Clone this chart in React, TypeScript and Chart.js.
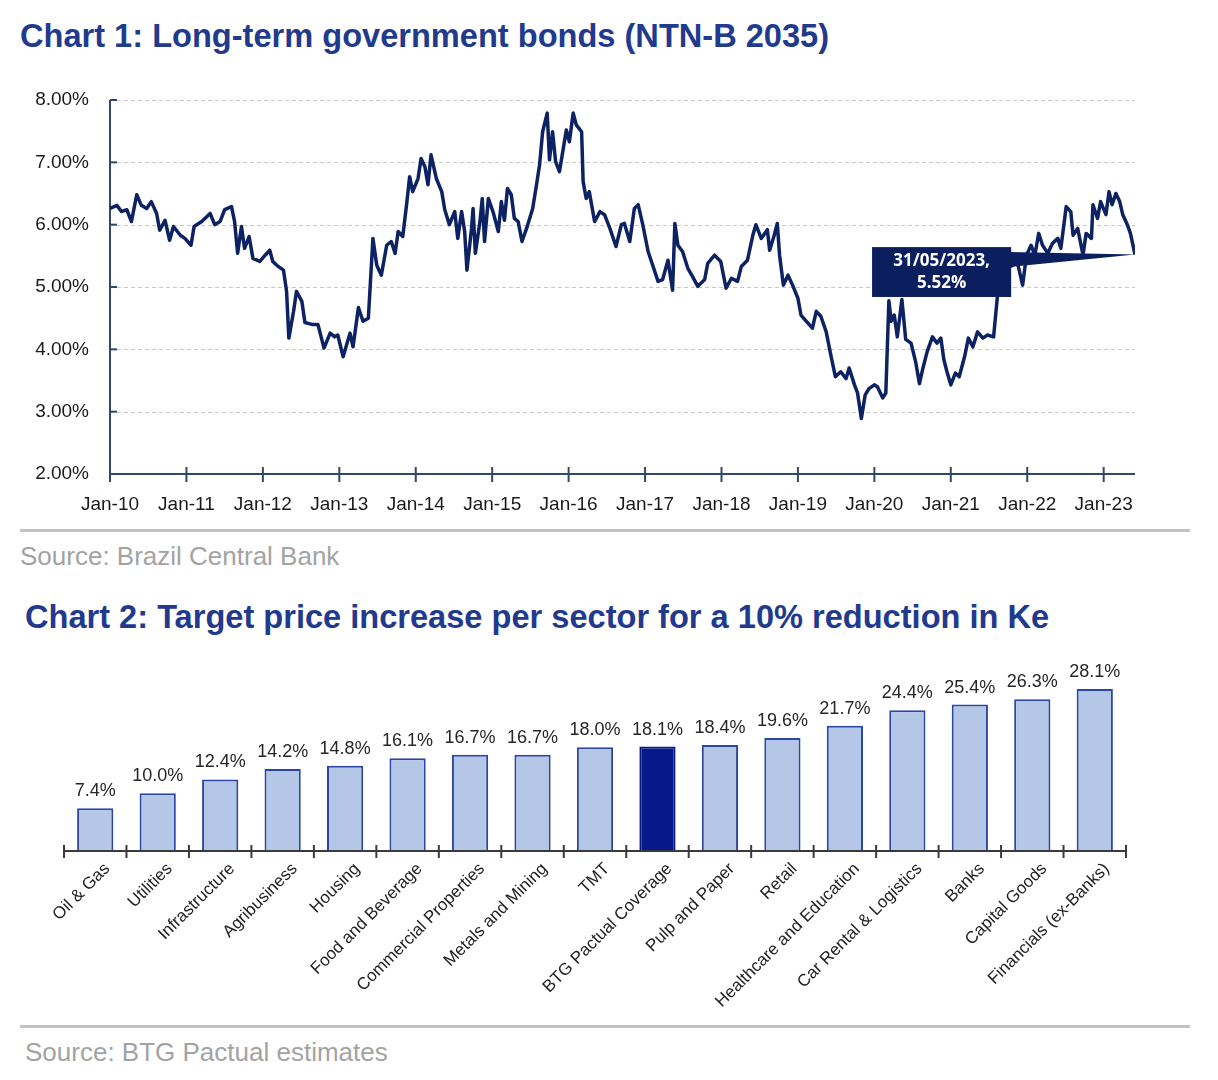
import { useEffect, useRef } from 'react';
import { Chart, registerables, type Plugin } from 'chart.js';

Chart.register(...registerables);

const FONT = "'Liberation Sans', Arial, Helvetica, sans-serif";
const TITLE_BLUE = '#223a8e';
const LINE_NAVY = '#0c2262';

// ---- Chart 1: NTN-B 2035 yield ----
const bondDates = [
  2010.0, 2010.09, 2010.15, 2010.22, 2010.28, 2010.35, 2010.41, 2010.48, 2010.54, 2010.61,
  2010.65, 2010.72, 2010.78, 2010.83, 2010.92, 2010.98, 2011.06, 2011.1, 2011.2, 2011.31,
  2011.37, 2011.44, 2011.5, 2011.59, 2011.63, 2011.67, 2011.72, 2011.76, 2011.82, 2011.87,
  2011.96, 2012.03, 2012.09, 2012.13, 2012.2, 2012.27, 2012.31, 2012.34, 2012.4, 2012.44,
  2012.51, 2012.55, 2012.64, 2012.72, 2012.8, 2012.88, 2012.94, 2012.98, 2013.05, 2013.14,
  2013.18, 2013.25, 2013.31, 2013.38, 2013.4, 2013.44,
  2013.49, 2013.55, 2013.62, 2013.68, 2013.73, 2013.77, 2013.83, 2013.88, 2013.92, 2013.96,
  2014.03, 2014.07, 2014.12, 2014.16, 2014.2, 2014.27, 2014.34, 2014.38, 2014.44, 2014.51,
  2014.55, 2014.6, 2014.64, 2014.67, 2014.73, 2014.75, 2014.78, 2014.84, 2014.87, 2014.9,
  2014.95, 2015.01, 2015.08, 2015.12, 2015.16, 2015.2, 2015.25, 2015.29, 2015.34, 2015.39,
  2015.45, 2015.49, 2015.53, 2015.58, 2015.62, 2015.66, 2015.72, 2015.75, 2015.79, 2015.83,
  2015.88, 2015.93, 2015.97, 2016.01, 2016.06, 2016.1, 2016.17, 2016.19, 2016.23, 2016.27,
  2016.34, 2016.41, 2016.47, 2016.54, 2016.62, 2016.69,
  2016.73, 2016.8, 2016.86, 2016.91, 2016.97, 2017.04, 2017.1, 2017.17, 2017.23, 2017.3,
  2017.36, 2017.39, 2017.43, 2017.49, 2017.56, 2017.62, 2017.69, 2017.78, 2017.82, 2017.91,
  2017.99, 2018.06, 2018.13, 2018.21, 2018.26, 2018.34, 2018.41, 2018.45, 2018.52, 2018.6,
  2018.63, 2018.69, 2018.73, 2018.76, 2018.81, 2018.87, 2018.93, 2019.0, 2019.04, 2019.11,
  2019.19, 2019.24, 2019.3, 2019.37, 2019.43, 2019.49, 2019.56, 2019.63, 2019.67, 2019.74,
  2019.78, 2019.83, 2019.88,
  2019.93, 2020.0, 2020.04, 2020.11, 2020.15, 2020.19, 2020.22, 2020.26, 2020.3, 2020.36,
  2020.41, 2020.48, 2020.54, 2020.59, 2020.63, 2020.69, 2020.76, 2020.82, 2020.87, 2020.91,
  2020.95, 2021.0, 2021.06, 2021.11, 2021.18, 2021.23, 2021.29, 2021.35, 2021.42, 2021.48,
  2021.56, 2021.61, 2021.68, 2021.74, 2021.81, 2021.87, 2021.94, 2021.99, 2022.05, 2022.1,
  2022.15, 2022.2, 2022.27, 2022.33, 2022.4, 2022.44, 2022.51, 2022.57, 2022.6, 2022.66,
  2022.73, 2022.77, 2022.84, 2022.86, 2022.92, 2022.96, 2023.03, 2023.07, 2023.11, 2023.16,
  2023.21, 2023.25, 2023.31, 2023.35, 2023.41,
];

const bondYields = [
  6.26, 6.31, 6.21, 6.24, 6.05, 6.48, 6.31, 6.26, 6.37, 6.18,
  5.91, 6.07, 5.75, 5.97, 5.83, 5.78, 5.67, 5.97, 6.05, 6.18,
  6.0, 6.05, 6.24, 6.29, 6.05, 5.54, 5.97, 5.62, 5.81, 5.46,
  5.41, 5.51, 5.59, 5.41, 5.33, 5.27, 4.93, 4.18, 4.6, 4.93,
  4.77, 4.43, 4.4, 4.4, 4.02, 4.26, 4.2, 4.23, 3.88, 4.26,
  4.04, 4.67, 4.45, 4.5, 4.93, 5.78,
  5.35, 5.19, 5.67, 5.73, 5.54, 5.89, 5.81, 6.32, 6.77, 6.53,
  6.74, 7.06, 6.93, 6.64, 7.12, 6.74, 6.53, 6.24, 6.0, 6.21,
  5.78, 6.21, 5.89, 5.27, 5.94, 6.26, 5.54, 6.05, 6.42, 5.73,
  6.42, 6.21, 5.89, 6.37, 6.07, 6.58, 6.48, 6.1, 6.05, 5.73,
  5.94, 6.1, 6.26, 6.64, 6.96, 7.49, 7.79, 7.04, 7.49, 7.01,
  6.85, 7.22, 7.52, 7.33, 7.79, 7.6, 7.49, 6.69, 6.42, 6.53,
  6.05, 6.21, 6.16, 5.94, 5.65, 6.0,
  6.02, 5.73, 6.26, 6.32, 6.0, 5.57, 5.35, 5.09, 5.12, 5.43,
  4.95, 6.02, 5.67, 5.57, 5.3, 5.17, 5.01, 5.12, 5.38, 5.51,
  5.41, 4.98, 5.14, 5.09, 5.33, 5.43, 5.83, 6.0, 5.78, 5.92,
  5.59, 5.83, 6.02, 5.51, 5.03, 5.19, 5.03, 4.82, 4.55, 4.45,
  4.34, 4.61, 4.53, 4.28, 3.91, 3.56, 3.64, 3.53, 3.7, 3.43,
  3.3, 2.89, 3.27,
  3.37, 3.43, 3.4, 3.22, 3.3, 4.78, 4.45, 4.55, 4.2, 4.8,
  4.16, 4.1, 3.8, 3.45, 3.67, 3.96, 4.2, 4.1, 4.18, 3.83,
  3.64, 3.43, 3.62, 3.56, 3.88, 4.18, 4.04, 4.28, 4.18, 4.23,
  4.2, 4.85, 5.03, 5.3, 5.35, 5.4, 5.03, 5.51, 5.67, 5.51,
  5.86, 5.67, 5.54, 5.7, 5.78, 5.62, 6.29, 6.21, 5.83, 5.94,
  5.51, 5.86, 5.78, 6.32, 6.1, 6.37, 6.16, 6.53, 6.32, 6.5,
  6.37, 6.16, 6.0, 5.86, 5.52,
];

const bondTickYears = [2010, 2011, 2012, 2013, 2014, 2015, 2016, 2017, 2018, 2019, 2020, 2021, 2022, 2023];
const bondTickLabels = ['Jan-10', 'Jan-11', 'Jan-12', 'Jan-13', 'Jan-14', 'Jan-15', 'Jan-16', 'Jan-17', 'Jan-18', 'Jan-19', 'Jan-20', 'Jan-21', 'Jan-22', 'Jan-23'];
const yieldTicks = [2, 3, 4, 5, 6, 7, 8];
const lastPointLabel = ['31/05/2023,', '5.52%'];
// callout box, in data units (years / %)
const calloutBox = { x0: 2019.97, x1: 2021.79, yTop: 5.64, yBottom: 4.84 };

// ---- Chart 2: target price increase per sector ----
const sectors = [
  'Oil & Gas', 'Utilities', 'Infrastructure', 'Agribusiness', 'Housing', 'Food and Beverage',
  'Commercial Properties', 'Metals and Mining', 'TMT', 'BTG Pactual Coverage', 'Pulp and Paper',
  'Retail', 'Healthcare and Education', 'Car Rental & Logistics', 'Banks', 'Capital Goods',
  'Financials (ex-Banks)',
];
const priceIncrease = [7.4, 10.0, 12.4, 14.2, 14.8, 16.1, 16.7, 16.7, 18.0, 18.1, 18.4, 19.6, 21.7, 24.4, 25.4, 26.3, 28.1];
const highlightSector = 'BTG Pactual Coverage';

const bondFrame: Plugin<'line'> = {
  id: 'bondFrame',
  beforeDatasetsDraw(chart) {
    const { ctx, chartArea, scales } = chart;
    const { left, right, top, bottom } = chartArea;
    const x = scales.x;
    const y = scales.y;
    ctx.save();
    ctx.strokeStyle = '#c8c8c8';
    ctx.lineWidth = 1;
    ctx.setLineDash([4, 3]);
    y.ticks.forEach((t) => {
      if (t.value === y.min) return;
      const py = Math.round(y.getPixelForValue(t.value)) + 0.5;
      ctx.beginPath();
      ctx.moveTo(left, py);
      ctx.lineTo(right, py);
      ctx.stroke();
    });
    ctx.setLineDash([]);
    ctx.strokeStyle = '#34466b';
    ctx.lineWidth = 2;
    ctx.beginPath();
    ctx.moveTo(left, top);
    ctx.lineTo(left, bottom);
    ctx.lineTo(right, bottom);
    ctx.stroke();
    y.ticks.forEach((t) => {
      const py = y.getPixelForValue(t.value);
      ctx.beginPath();
      ctx.moveTo(left, py);
      ctx.lineTo(left + 7, py);
      ctx.stroke();
    });
    x.ticks.forEach((t) => {
      const px = x.getPixelForValue(t.value);
      ctx.beginPath();
      ctx.moveTo(px, bottom - 7);
      ctx.lineTo(px, bottom + 8);
      ctx.stroke();
    });
    ctx.restore();
  },
  afterDatasetsDraw(chart) {
    const { ctx, scales } = chart;
    const x = scales.x;
    const y = scales.y;
    const n = bondDates.length - 1;
    const px = x.getPixelForValue(bondDates[n]);
    const py = y.getPixelForValue(bondYields[n]);
    const bx0 = x.getPixelForValue(calloutBox.x0);
    const bx1 = x.getPixelForValue(calloutBox.x1);
    const by0 = y.getPixelForValue(calloutBox.yTop);
    const by1 = y.getPixelForValue(calloutBox.yBottom);
    ctx.save();
    ctx.fillStyle = '#0b1f5e';
    ctx.beginPath();
    ctx.moveTo(bx1 - 2, by0 + 5);
    ctx.lineTo(px, py);
    ctx.lineTo(bx1 - 2, by0 + 20);
    ctx.closePath();
    ctx.fill();
    ctx.fillRect(bx0, by0, bx1 - bx0, by1 - by0);
    ctx.fillStyle = '#ffffff';
    ctx.font = "bold 17px 'Open Sans', 'Liberation Sans', sans-serif";
    ctx.textAlign = 'center';
    ctx.textBaseline = 'middle';
    const cx = (bx0 + bx1) / 2;
    const h = by1 - by0;
    ctx.fillText(lastPointLabel[0], cx, by0 + h * 0.28);
    ctx.fillText(lastPointLabel[1], cx, by0 + h * 0.72);
    ctx.restore();
  },
};

function BondChart() {
  const chartRef = useRef<HTMLCanvasElement>(null);
  const chartInstance = useRef<Chart | null>(null);

  useEffect(() => {
    if (!chartRef.current) return;
    if (chartInstance.current) chartInstance.current.destroy();
    const ctx = chartRef.current.getContext('2d');
    if (!ctx) return;

    chartInstance.current = new Chart(ctx, {
      type: 'line',
      data: {
        datasets: [
          {
            data: bondDates.map((d, i) => ({ x: d, y: bondYields[i] })),
            borderColor: LINE_NAVY,
            borderWidth: 3.5,
            pointRadius: 0,
            tension: 0,
            borderJoinStyle: 'round',
          },
        ],
      },
      options: {
        animation: false,
        responsive: true,
        maintainAspectRatio: false,
        layout: { padding: { top: 15, right: 25, left: 0, bottom: 0 } },
        plugins: { legend: { display: false }, tooltip: { enabled: false } },
        scales: {
          x: {
            type: 'linear',
            min: bondDates[0],
            max: bondDates[bondDates.length - 1],
            afterBuildTicks: (s) => {
              s.ticks = bondTickYears.map((v) => ({ value: v }));
            },
            afterFit: (s) => {
              s.height = 56;
            },
            grid: { display: false, drawTicks: false },
            border: { display: false },
            ticks: {
              autoSkip: false,
              maxRotation: 0,
              padding: 19,
              color: '#1a1a1a',
              font: { family: FONT, size: 19 },
              callback: (v) => bondTickLabels[bondTickYears.indexOf(Number(v))] ?? '',
            },
          },
          y: {
            min: 2,
            max: 8,
            afterBuildTicks: (s) => {
              s.ticks = yieldTicks.map((v) => ({ value: v }));
            },
            afterFit: (s) => {
              s.width = 110;
              s.paddingTop = 0;
              s.paddingBottom = 0;
            },
            grid: { display: false, drawTicks: false },
            border: { display: false },
            ticks: {
              padding: 21,
              color: '#1a1a1a',
              font: { family: FONT, size: 19 },
              callback: (v) => `${Number(v).toFixed(2)}%`,
            },
          },
        },
      },
      plugins: [bondFrame],
    });

    return () => {
      if (chartInstance.current) {
        chartInstance.current.destroy();
        chartInstance.current = null;
      }
    };
  }, []);

  return <canvas ref={chartRef} />;
}

const sectorFrame: Plugin<'bar'> = {
  id: 'sectorFrame',
  afterDatasetsDraw(chart) {
    const { ctx, chartArea } = chart;
    const { left, right, bottom } = chartArea;
    const meta = chart.getDatasetMeta(0);
    ctx.save();
    ctx.fillStyle = '#262626';
    ctx.font = `18px ${FONT}`;
    ctx.textAlign = 'center';
    ctx.textBaseline = 'alphabetic';
    meta.data.forEach((bar, i) => {
      ctx.fillText(`${priceIncrease[i].toFixed(1)}%`, bar.x, bar.y - 12);
    });
    ctx.strokeStyle = '#3a3a3a';
    ctx.lineWidth = 2;
    ctx.beginPath();
    ctx.moveTo(left, bottom);
    ctx.lineTo(right, bottom);
    ctx.stroke();
    const step = (right - left) / sectors.length;
    for (let k = 0; k <= sectors.length; k++) {
      const px = left + k * step;
      ctx.beginPath();
      ctx.moveTo(px, bottom - 6);
      ctx.lineTo(px, bottom + 7);
      ctx.stroke();
    }
    ctx.restore();
  },
};

function SectorChart() {
  const chartRef = useRef<HTMLCanvasElement>(null);
  const chartInstance = useRef<Chart | null>(null);

  useEffect(() => {
    if (!chartRef.current) return;
    if (chartInstance.current) chartInstance.current.destroy();
    const ctx = chartRef.current.getContext('2d');
    if (!ctx) return;

    chartInstance.current = new Chart(ctx, {
      type: 'bar',
      data: {
        labels: sectors,
        datasets: [
          {
            data: priceIncrease,
            backgroundColor: sectors.map((s) => (s === highlightSector ? '#07198a' : '#b4c7e7')),
            borderColor: sectors.map((s) => (s === highlightSector ? '#07198a' : '#2b46a6')),
            borderWidth: 2,
            barPercentage: 0.58,
            categoryPercentage: 1,
          },
        ],
      },
      options: {
        animation: false,
        responsive: true,
        maintainAspectRatio: false,
        layout: { padding: { top: 38, right: 92, left: 64, bottom: 0 } },
        plugins: { legend: { display: false }, tooltip: { enabled: false } },
        scales: {
          x: {
            afterFit: (s) => {
              s.height = 169;
            },
            grid: { display: false, drawTicks: false },
            border: { display: false },
            ticks: {
              autoSkip: false,
              minRotation: 45,
              maxRotation: 45,
              padding: 8,
              labelOffset: 12,
              color: '#222222',
              font: { family: FONT, size: 17 },
            },
          },
          y: { display: false, min: 0, max: 30 },
        },
      },
      plugins: [sectorFrame],
    });

    return () => {
      if (chartInstance.current) {
        chartInstance.current.destroy();
        chartInstance.current = null;
      }
    };
  }, []);

  return <canvas ref={chartRef} />;
}

const titleStyle: React.CSSProperties = {
  position: 'absolute',
  fontFamily: FONT,
  fontWeight: 'bold',
  fontSize: 32.6,
  lineHeight: '40px',
  color: TITLE_BLUE,
  whiteSpace: 'nowrap',
};

const sourceStyle: React.CSSProperties = {
  position: 'absolute',
  fontFamily: FONT,
  fontSize: 26,
  lineHeight: '30px',
  color: '#a3a3a3',
  whiteSpace: 'nowrap',
};

const ruleStyle: React.CSSProperties = {
  position: 'absolute',
  left: 20,
  width: 1170,
  height: 3,
  background: '#c3c3c3',
};

export default function App() {
  return (
    <div
      style={{
        position: 'absolute',
        left: 0,
        top: 0,
        width: 1218,
        height: 1080,
        background: '#ffffff',
        overflow: 'hidden',
      }}
    >
      <div style={{ ...titleStyle, left: 20, top: 16 }}>Chart 1: Long-term government bonds (NTN-B 2035)</div>
      <div style={{ position: 'absolute', left: 0, top: 85, width: 1160, height: 445 }}>
        <BondChart />
      </div>
      <div style={{ ...ruleStyle, top: 529 }} />
      <div style={{ ...sourceStyle, left: 20, top: 541 }}>Source: Brazil Central Bank</div>

      <div style={{ ...titleStyle, left: 25, top: 597 }}>
        Chart 2: Target price increase per sector for a 10% reduction in Ke
      </div>
      <div style={{ position: 'absolute', left: 0, top: 640, width: 1218, height: 380 }}>
        <SectorChart />
      </div>
      <div style={{ ...ruleStyle, top: 1025 }} />
      <div style={{ ...sourceStyle, left: 25, top: 1037 }}>Source: BTG Pactual estimates</div>
    </div>
  );
}
